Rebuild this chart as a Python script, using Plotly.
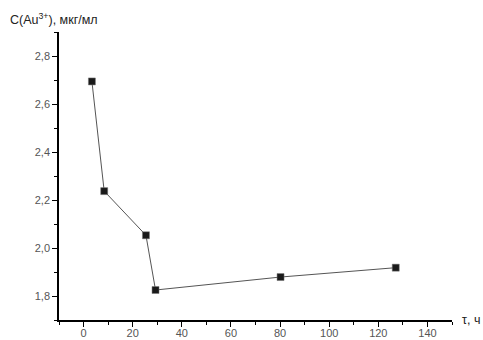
import plotly.graph_objects as go

t_hours = [3.4, 8.4, 25.4, 29.3, 80.2, 127.1]
conc = [2.694, 2.237, 2.053, 1.825, 1.879, 1.918]

x_ticks = [0, 20, 40, 60, 80, 100, 120, 140]
y_ticks = [1.8, 2.0, 2.2, 2.4, 2.6, 2.8]

fig = go.Figure()
fig.add_trace(go.Scatter(
    x=t_hours, y=conc, mode="lines+markers",
    line=dict(color="#555555", width=1),
    marker=dict(symbol="square", size=7, color="#1a1a1a",
                line=dict(color="#777777", width=0.5)),
    showlegend=False,
))

tickfont = dict(family="Liberation Sans, Arial, sans-serif", size=11, color="#555555")

fig.update_layout(
    width=483, height=340,
    margin=dict(l=59, r=31, t=32, b=20, autoexpand=False),
    paper_bgcolor="white", plot_bgcolor="white",
    separators=", ",
    xaxis=dict(
        range=[-10, 150], tickvals=x_ticks, showgrid=False, zeroline=False,
        automargin=False, ticklabelstandoff=-3,
        showline=True, linecolor="black", linewidth=1.5,
        ticks="outside", ticklen=5, tickwidth=1.2, tickcolor="black",
        minor=dict(dtick=10, tick0=0, ticks="outside", ticklen=3, tickwidth=1, tickcolor="black"),
        tickfont=tickfont,
    ),
    yaxis=dict(
        range=[1.7, 2.9], tickvals=y_ticks, tickformat=".1f",
        showgrid=False, zeroline=False, automargin=False,
        showline=True, linecolor="black", linewidth=1.5,
        ticks="outside", ticklen=5, tickwidth=1.2, tickcolor="black",
        minor=dict(dtick=0.1, tick0=1.7, ticks="outside", ticklen=3, tickwidth=1, tickcolor="black"),
        tickfont=tickfont,
    ),
    annotations=[
        dict(text="C(Au<sup>3+</sup>), мкг/мл", xref="paper", yref="paper",
             x=-51/393, y=1 + 13/288, xanchor="left", yanchor="middle",
             showarrow=False,
             font=dict(family="Liberation Sans, Arial, sans-serif", size=12.5, color="#222222")),
        dict(text="τ, ч", xref="paper", yref="paper",
             x=1 + 8/393, y=0, xanchor="left", yanchor="middle",
             showarrow=False,
             font=dict(family="Liberation Sans, Arial, sans-serif", size=12.5, color="#222222")),
    ],
)

fig.write_html("out.html")
